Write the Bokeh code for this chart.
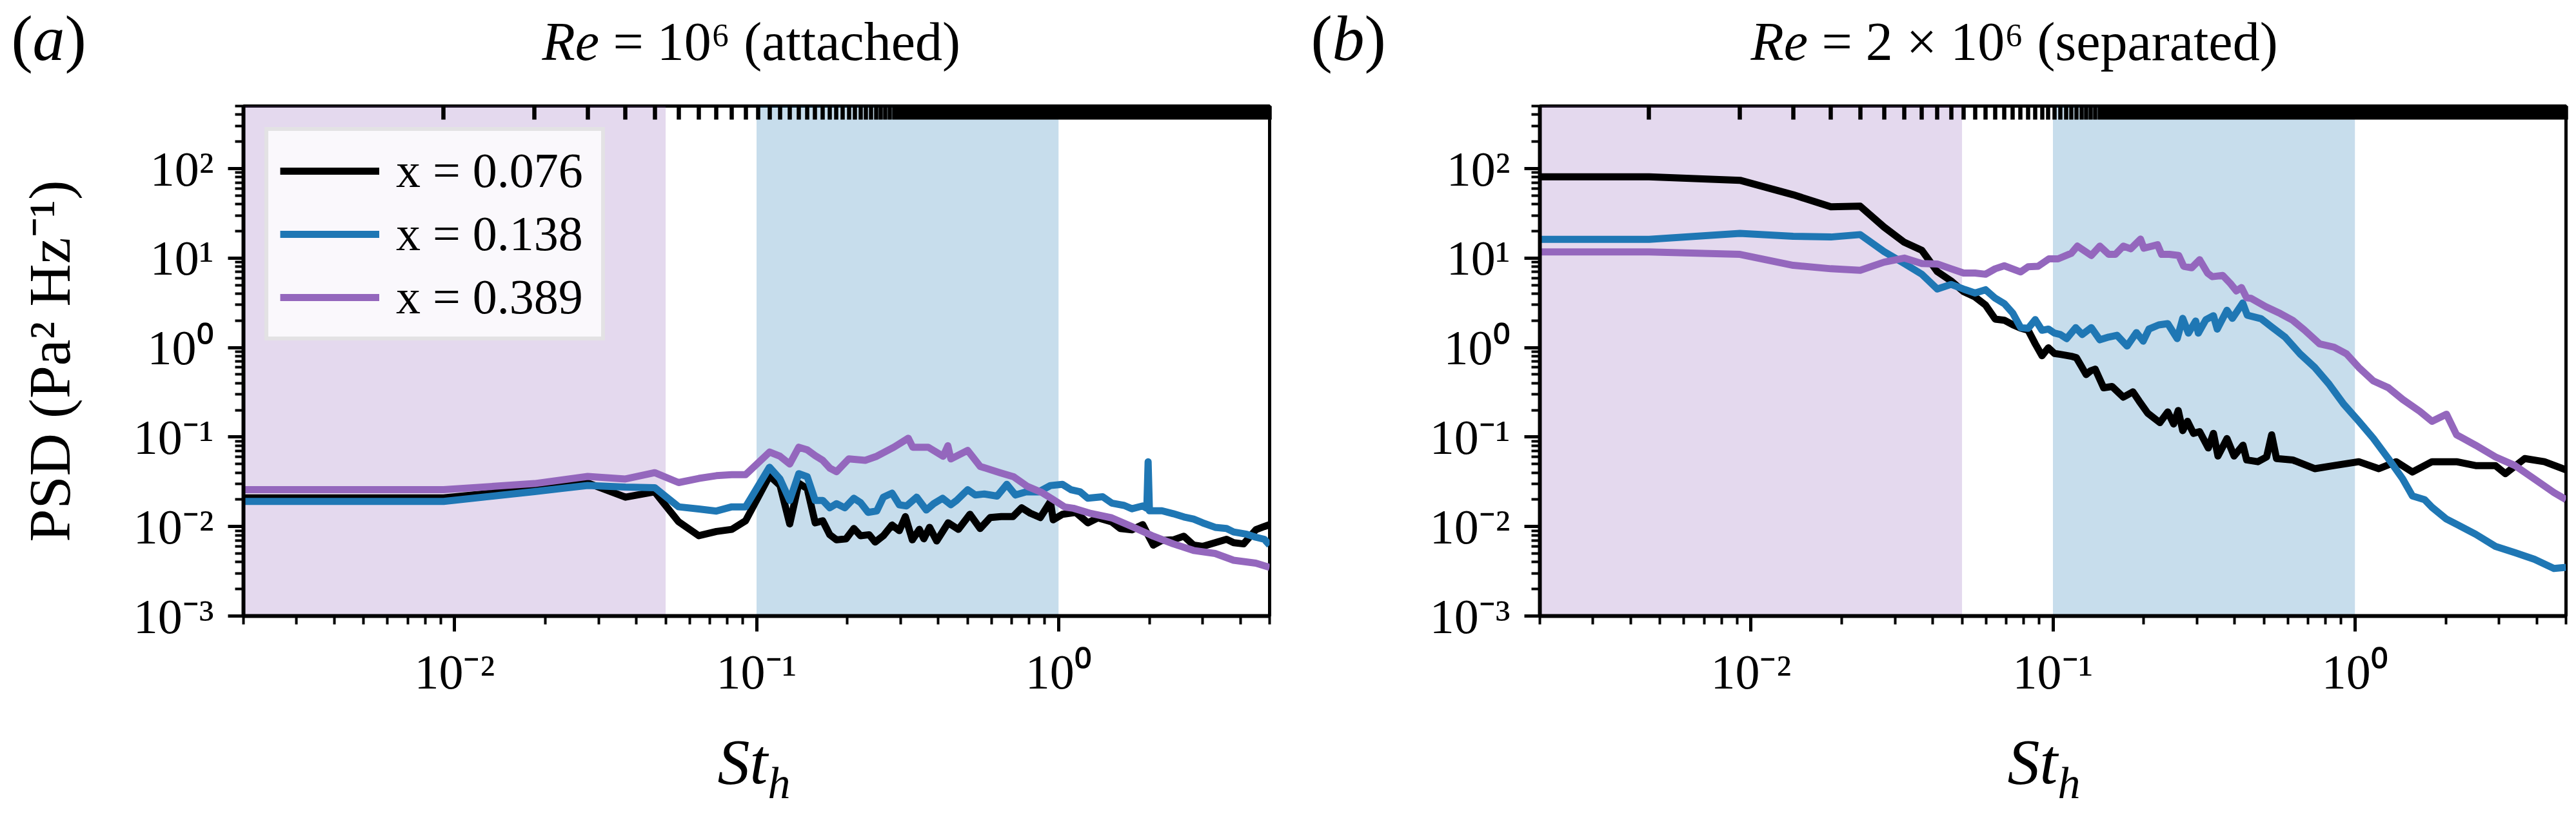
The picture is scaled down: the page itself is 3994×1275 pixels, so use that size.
from bokeh.plotting import figure
from bokeh.models import (Range1d, FixedTicker, CustomJSTickFormatter, LogAxis,
                          BoxAnnotation, Legend, LegendItem)
from bokeh.core.properties import value
from bokeh.layouts import row, column
from bokeh.embed import file_html
from bokeh.resources import INLINE

FONT = "Liberation Serif"

# ---------------- data: panel (a) Re = 1e6 (attached) ----------------
st_a_076 = [0.001, 0.0092, 0.0184, 0.0276, 0.0368, 0.046, 0.0552, 0.0644, 0.0736, 0.0828,
            0.092, 0.1104, 0.1196, 0.1288, 0.138, 0.1472, 0.1564, 0.1656, 0.1748, 0.184,
            0.198, 0.21, 0.221, 0.236, 0.247, 0.263, 0.281, 0.297, 0.311, 0.328,
            0.346, 0.358, 0.374, 0.395, 0.431, 0.466, 0.509, 0.55, 0.594, 0.646,
            0.706, 0.755, 0.806, 0.87, 0.94, 0.96, 1.03, 1.14, 1.25, 1.35,
            1.5, 1.6, 1.75, 1.9, 2.06, 2.2, 2.4, 2.6, 2.8, 3.0,
            3.3, 3.6, 3.8, 4.1, 4.5, 4.8, 5.0]
psd_a_076 = [0.0209, 0.0209, 0.0263, 0.0307, 0.0213, 0.0244, 0.0113, 0.0079, 0.0088, 0.0093,
             0.0116, 0.0369, 0.0288, 0.0107, 0.0304, 0.0265, 0.0110, 0.0116, 0.0081, 0.0071,
             0.0073, 0.0095, 0.0079, 0.0081, 0.0067, 0.0079, 0.0104, 0.0090, 0.0129, 0.0071,
             0.0093, 0.0073, 0.0098, 0.0069, 0.0110, 0.0093, 0.0137, 0.0095, 0.0126, 0.0129,
             0.0129, 0.0162, 0.0141, 0.0126, 0.0190, 0.0119, 0.0137, 0.0144, 0.0110, 0.0125,
             0.0113, 0.0095, 0.0092, 0.0105, 0.0062, 0.0070, 0.0071, 0.0078, 0.0062, 0.0060,
             0.0066, 0.0072, 0.0066, 0.0064, 0.0092, 0.0100, 0.0105]

st_a_138 = [0.001, 0.0092, 0.0184, 0.0276, 0.0368, 0.046, 0.0552, 0.0644, 0.0736, 0.0828,
            0.092, 0.1104, 0.1196, 0.1288, 0.138, 0.1472, 0.1564, 0.1656, 0.1748, 0.184,
            0.196, 0.21, 0.221, 0.234, 0.25, 0.263, 0.281, 0.297, 0.314, 0.339,
            0.365, 0.386, 0.413, 0.44, 0.46, 0.5, 0.53, 0.568, 0.626, 0.674,
            0.72, 0.78, 0.86, 0.94, 1.03, 1.1, 1.18, 1.25, 1.4, 1.5,
            1.65, 1.75, 1.9, 1.96, 1.98, 2.0, 2.2, 2.4, 2.6, 2.8,
            3.0, 3.3, 3.6, 3.8, 4.2, 4.5, 4.8, 5.0]
psd_a_138 = [0.0191, 0.0191, 0.0246, 0.0288, 0.0276, 0.0272, 0.0166, 0.0157, 0.0149, 0.0166,
             0.0166, 0.046, 0.034, 0.0196, 0.039, 0.036, 0.0196, 0.0196, 0.0162, 0.018,
             0.0162, 0.0207, 0.0185, 0.0144, 0.0149, 0.0213, 0.0236, 0.0175, 0.017, 0.0213,
             0.0153, 0.018, 0.0207, 0.0175, 0.0196, 0.0258, 0.0225, 0.0231, 0.0219, 0.0296,
             0.0225, 0.0244, 0.0244, 0.0287, 0.0296, 0.0258, 0.0244, 0.0207, 0.0215, 0.0183,
             0.0172, 0.0158, 0.017, 0.016, 0.053, 0.015, 0.0150, 0.0139, 0.0128, 0.0121,
             0.0110, 0.0098, 0.0095, 0.0087, 0.0082, 0.0076, 0.0072, 0.0062]

st_a_389 = [0.001, 0.0092, 0.0184, 0.0276, 0.0368, 0.046, 0.0552, 0.0644, 0.0736, 0.0828,
            0.092, 0.1104, 0.1196, 0.1288, 0.138, 0.1472, 0.1564, 0.1656, 0.1748, 0.184,
            0.202, 0.229, 0.25, 0.285, 0.318, 0.329, 0.37, 0.415, 0.43, 0.44,
            0.5, 0.55, 0.64, 0.71, 0.79, 0.88, 0.96, 1.05, 1.12, 1.28,
            1.5, 1.75, 2.06, 2.4, 2.8, 3.3, 3.8, 4.5, 5.0]
psd_a_389 = [0.0258, 0.0258, 0.0302, 0.0363, 0.034, 0.040, 0.031, 0.0345, 0.037, 0.038,
             0.038, 0.068, 0.061, 0.050, 0.077, 0.072, 0.062, 0.055, 0.045, 0.041,
             0.057, 0.055, 0.061, 0.077, 0.097, 0.077, 0.077, 0.061, 0.080, 0.057,
             0.071, 0.047, 0.040, 0.036, 0.028, 0.024, 0.020, 0.0165, 0.016, 0.014,
             0.0125, 0.0100, 0.0078, 0.0064, 0.0054, 0.0050, 0.0042, 0.0039, 0.0035]

# ---------------- data: panel (b) Re = 2e6 (separated) ----------------
st_b_076 = [0.001, 0.0046, 0.0092, 0.0138, 0.0184, 0.023, 0.0276, 0.0322, 0.0368, 0.0414,
            0.046, 0.0506, 0.0552, 0.0598, 0.0644, 0.069, 0.0736, 0.0782, 0.0828, 0.0874,
            0.092, 0.0966, 0.1012, 0.1058, 0.1104, 0.115, 0.1196, 0.1242, 0.1288, 0.1334,
            0.138, 0.1426, 0.1472, 0.157, 0.171, 0.184, 0.193, 0.206, 0.226, 0.24,
            0.251, 0.26, 0.269, 0.279, 0.292, 0.306, 0.327, 0.34, 0.352, 0.377,
            0.398, 0.426, 0.438, 0.477, 0.51, 0.53, 0.55, 0.622, 0.736, 0.853,
            1.03, 1.2, 1.37, 1.55, 1.8, 2.17, 2.51, 2.92, 3.15, 3.65,
            4.24, 5.0]
psd_b_076 = [81, 81, 74, 51, 37.4, 38, 22.2, 15.0, 12.2, 7.06,
             5.55, 4.22, 3.68, 2.99, 2.08, 2.02, 1.80, 1.65, 1.56, 1.10,
             0.81, 0.995, 0.86, 0.84, 0.82, 0.80, 0.77, 0.62, 0.50, 0.55,
             0.574, 0.45, 0.355, 0.367, 0.279, 0.32, 0.252, 0.185, 0.145, 0.191,
             0.140, 0.198, 0.118, 0.15, 0.110, 0.115, 0.0755, 0.110, 0.0614, 0.096,
             0.0614, 0.081, 0.0555, 0.053, 0.060, 0.106, 0.0575, 0.0555, 0.0443, 0.048,
             0.053, 0.0443, 0.053, 0.0407, 0.053, 0.053, 0.048, 0.048, 0.039, 0.0575,
             0.053, 0.043]

st_b_138 = [0.001, 0.0046, 0.0092, 0.0138, 0.0184, 0.023, 0.0276, 0.0322, 0.0368, 0.0414,
            0.046, 0.0506, 0.0552, 0.0598, 0.0644, 0.069, 0.0736, 0.0782, 0.0828, 0.0874,
            0.092, 0.0966, 0.1012, 0.1058, 0.111, 0.119, 0.125, 0.134, 0.143, 0.153,
            0.163, 0.176, 0.189, 0.199, 0.208, 0.224, 0.24, 0.258, 0.269, 0.281,
            0.297, 0.303, 0.321, 0.34, 0.35, 0.377, 0.393, 0.425, 0.44, 0.489,
            0.53, 0.587, 0.658, 0.736, 0.822, 0.92, 1.03, 1.15, 1.29, 1.44,
            1.55, 1.70, 1.80, 2.01, 2.17, 2.51, 2.92, 3.39, 3.93, 4.56,
            5.0]
psd_b_138 = [16.2, 16.2, 18.9, 17.5, 17.2, 18.3, 11.8, 8.7, 6.6, 4.52,
             5.08, 4.5, 4.07, 4.43, 3.56, 3.10, 2.43, 1.67, 1.64, 2.05,
             1.56, 1.61, 1.45, 1.40, 1.26, 1.67, 1.40, 1.67, 1.22, 1.31,
             1.37, 1.04, 1.47, 1.18, 1.61, 1.79, 1.85, 1.26, 2.12, 1.45,
             1.98, 1.45, 2.05, 2.27, 1.61, 2.61, 2.12, 3.15, 2.3, 2.1,
             1.70, 1.31, 0.85, 0.60, 0.388, 0.231, 0.150, 0.097, 0.0575, 0.034,
             0.022, 0.020, 0.0164, 0.0121, 0.0106, 0.0082, 0.0060, 0.0051, 0.0043, 0.0034,
             0.0035]

st_b_389 = [0.001, 0.0046, 0.0092, 0.0138, 0.0184, 0.023, 0.0276, 0.0322, 0.0368, 0.0414,
            0.046, 0.0506, 0.0552, 0.0598, 0.0644, 0.069, 0.0782, 0.0828, 0.0893, 0.097,
            0.104, 0.115, 0.1205, 0.134, 0.143, 0.153, 0.161, 0.171, 0.181, 0.195,
            0.2, 0.222, 0.229, 0.243, 0.261, 0.271, 0.288, 0.306, 0.325, 0.337,
            0.365, 0.387, 0.405, 0.421, 0.438, 0.453, 0.507, 0.566, 0.622, 0.682,
            0.764, 0.853, 0.938, 1.03, 1.15, 1.29, 1.44, 1.64, 1.80, 2.01,
            2.17, 2.51, 2.92, 3.39, 3.93, 4.56, 5.0]
psd_b_389 = [11.7, 11.7, 11.0, 8.3, 7.6, 7.3, 9.0, 10.0, 8.7, 8.6,
             7.6, 6.8, 6.8, 6.6, 7.6, 8.2, 7.0, 8.0, 8.1, 9.8,
             9.8, 11.3, 13.6, 10.7, 13.6, 11.0, 11.0, 13.6, 12.7, 16.3,
             12.9, 14.1, 11.0, 11.0, 10.7, 8.1, 7.8, 9.6, 6.8, 6.2,
             6.4, 5.2, 4.3, 4.68, 3.6, 3.55, 2.86, 2.40, 2.02, 1.56,
             1.10, 1.01, 0.85, 0.60, 0.424, 0.356, 0.263, 0.194, 0.150, 0.18,
             0.106, 0.081, 0.060, 0.048, 0.034, 0.024, 0.020]

series_labels = ["x = 0.076", "x = 0.138", "x = 0.389"]
series_colors = ["#000000", "#1f77b4", "#9467bd"]

# frequency-bin spacing marked on the top axis of each panel
df_a = 0.0092
df_b = 0.0046

x_major = [0.01, 0.1, 1.0]
x_minor = [m * 10.0 ** e for e in (-3, -2, -1, 0) for m in range(2, 10) if 0.002 <= m * 10.0 ** e <= 5.0]
y_major = [1e-3, 1e-2, 1e-1, 1.0, 10.0, 100.0]
y_minor = [m * 10.0 ** e for e in range(-3, 3) for m in range(2, 10) if m * 10.0 ** e <= 500.0]

sup_fmt = CustomJSTickFormatter(code="""
const e = Math.round(Math.log10(tick));
const sup = {'-':'\u207b','0':'\u2070','1':'\u00b9','2':'\u00b2','3':'\u00b3','4':'\u2074',
             '5':'\u2075','6':'\u2076','7':'\u2077','8':'\u2078','9':'\u2079'};
return '10' + String(e).split('').map(c => sup[c]).join('');
""")

TOTAL_W = 3982
HEAD_H = 150
FOOT_H = 149
FW, FH = 1591, 791
TOP, BOTTOM = 14, 155


def style_axis(ax):
    ax.axis_line_width = 6
    ax.axis_line_color = "black"
    ax.major_tick_line_width = 5
    ax.minor_tick_line_width = 4
    ax.major_tick_out = 24
    ax.major_tick_in = 0
    ax.minor_tick_out = 13
    ax.minor_tick_in = 0
    ax.major_label_text_font = FONT
    ax.major_label_text_font_size = "76px"
    ax.major_label_text_color = "black"
    ax.major_label_standoff = 22


def make_panel(lb, rb, series, df, ylabel):
    p = figure(frame_width=FW, frame_height=FH,
               x_axis_type="log", y_axis_type="log",
               x_range=Range1d(0.002, 5.0), y_range=Range1d(1e-3, 500.0),
               output_backend="svg", toolbar_location=None,
               min_border_left=lb, min_border_right=rb,
               min_border_top=TOP, min_border_bottom=BOTTOM)
    p.background_fill_color = "white"
    p.border_fill_color = "white"
    p.outline_line_color = "black"
    p.outline_line_width = 5
    p.xgrid.visible = False
    p.ygrid.visible = False

    p.xaxis.ticker = FixedTicker(ticks=x_major, minor_ticks=x_minor)
    p.yaxis.ticker = FixedTicker(ticks=y_major, minor_ticks=y_minor)
    p.xaxis.formatter = sup_fmt
    p.yaxis.formatter = sup_fmt
    for ax in (p.xaxis[0], p.yaxis[0]):
        style_axis(ax)
    p.xaxis.major_label_standoff = 20
    if ylabel:
        p.yaxis.axis_label = ylabel
        p.yaxis.axis_label_text_font = FONT
        p.yaxis.axis_label_text_font_size = "92px"
        p.yaxis.axis_label_text_font_style = "normal"
        p.yaxis.axis_label_text_color = "black"
        p.yaxis.axis_label_standoff = 76

    # top axis marking the frequency bins
    kmax = int(5.0 / df)
    top_ticks = [k * df for k in range(1, kmax + 1)]
    top = LogAxis(ticker=FixedTicker(ticks=top_ticks, minor_ticks=[]))
    top.axis_line_color = None
    top.major_tick_in = 21
    top.major_tick_out = 0
    top.major_tick_line_width = 6.5
    top.minor_tick_line_color = None
    top.major_label_text_color = None
    top.major_label_text_font_size = "1px"
    top.major_label_standoff = 0
    p.add_layout(top, "above")

    # shaded ranges
    p.add_layout(BoxAnnotation(right=0.05, fill_color="#9467bd", fill_alpha=0.25,
                               line_color=None, level="underlay"))
    p.add_layout(BoxAnnotation(left=0.1, right=1.0, fill_color="#1f77b4", fill_alpha=0.25,
                               line_color=None, level="underlay"))

    renderers = []
    for (st, psd), col in zip(series, series_colors):
        r = p.line(st, psd, line_color=col, line_width=11, line_join="round")
        renderers.append(r)
    return p, renderers


def text_strip(height):
    s = figure(frame_width=TOTAL_W, frame_height=height, title=None,
               x_range=Range1d(0, TOTAL_W), y_range=Range1d(0, height),
               output_backend="svg", toolbar_location=None,
               x_axis_location=None, y_axis_location=None,
               min_border_left=0, min_border_right=0,
               min_border_top=0, min_border_bottom=0)
    s.outline_line_color = None
    s.background_fill_color = "white"
    s.border_fill_color = "white"
    s.grid.visible = False
    return s


def put(s, x, y, txt, size, italic=False):
    s.text(x=[x], y=[y], text=[txt], text_font=value(FONT), text_font_size=value(size),
           text_font_style="italic" if italic else "normal", text_color="black",
           text_baseline="middle", text_align="left")


pa, ra = make_panel(377, 20,
                    [(st_a_076, psd_a_076), (st_a_138, psd_a_138), (st_a_389, psd_a_389)],
                    df_a, "PSD (Pa\u00b2 Hz\u207b\u00b9)")
pb, rb_ = make_panel(399, 4,
                     [(st_b_076, psd_b_076), (st_b_138, psd_b_138), (st_b_389, psd_b_389)],
                     df_b, None)

legend = Legend(items=[LegendItem(label=lab, renderers=[r]) for lab, r in zip(series_labels, ra)],
                location="top_left")
legend.margin = 33
legend.padding = 18
legend.spacing = 11
legend.glyph_width = 154
legend.glyph_height = 80
legend.label_width = 300
legend.label_height = 80
legend.label_standoff = 26
legend.label_text_font = FONT
legend.label_text_font_size = "76px"
legend.label_text_color = "black"
legend.label_text_baseline = "middle"
legend.border_line_color = "#cccccc"
legend.border_line_width = 6
legend.background_fill_color = "white"
legend.background_fill_alpha = 0.8
pa.add_layout(legend)

# header: panel tags and titles (vertical middles measured from strip bottom)
head = text_strip(HEAD_H)
ty, py = 86, 91
put(head, 17, py, "(", "100px")
put(head, 50, py, "a", "100px", italic=True)
put(head, 100, py, ")", "100px")
put(head, 840, ty, "Re", "84px", italic=True)
put(head, 950, ty, "= 10\u2076 (attached)", "84px")
put(head, 2032, py, "(", "100px")
put(head, 2065, py, "b", "100px", italic=True)
put(head, 2115, py, ")", "100px")
put(head, 2714, ty, "Re", "84px", italic=True)
put(head, 2824, ty, "= 2 \u00d7 10\u2076 (separated)", "84px")

# footer: x-axis labels St_h
foot = text_strip(FOOT_H)
put(foot, 1112, 78, "St", "100px", italic=True)
put(foot, 1190, 45, "h", "70px", italic=True)
put(foot, 3112, 78, "St", "100px", italic=True)
put(foot, 3190, 45, "h", "70px", italic=True)

layout = column(head, row(pa, pb), foot)
open("out.html", "w").write(file_html(layout, INLINE))
